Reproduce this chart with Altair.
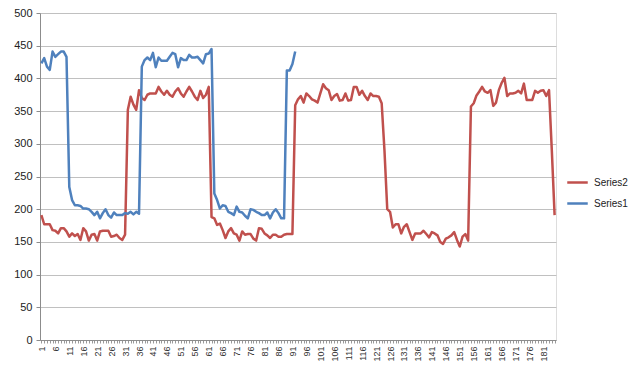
import altair as alt
import pandas as pd

# Series2 (red), categories 1..185
series2 = [
    191, 177, 177, 177, 168, 167, 163, 171, 171, 166, 158, 163, 159, 162, 153, 171,
    166, 152, 161, 162, 152, 166, 167, 167, 167, 158, 159, 161, 156, 153, 161,
    352, 372, 360, 352, 382, 370, 367, 375, 377, 377, 377, 387, 380, 375, 381, 375,
    372, 380, 385, 377, 372, 380, 387, 380, 372, 367, 381, 370, 375, 387,
    188, 186, 176, 178, 168, 156, 166, 171, 163, 161, 152, 166, 161, 162, 162, 155,
    152, 171, 170, 163, 160, 156, 161, 161, 158, 158, 161, 162, 162, 162,
    359, 368, 373, 363, 377, 373, 368, 366, 363, 377, 391, 385, 382, 367, 373, 376,
    366, 367, 377, 366, 367, 387, 387, 375, 381, 373, 367, 377, 373, 373, 372, 362,
    290, 200, 196, 172, 177, 177, 163, 173, 177, 165, 153, 163, 163, 163, 167, 162,
    157, 165, 163, 160, 150, 147, 155, 157, 160, 165, 153, 143, 158, 162, 152,
    357, 362, 374, 380, 387, 380, 378, 382, 358, 363, 382, 393, 401, 373, 377, 377,
    378, 381, 377, 392, 367, 367, 367, 381, 378, 381, 382, 373, 382, 290, 191,
]

# Series1 (blue), categories 1..92
series1 = [
    423, 431, 418, 413, 441, 433, 437, 441, 441, 433, 234,
    214, 206, 206, 205, 201, 201, 200, 196, 191, 196, 186, 194, 200, 191, 187, 195,
    191, 191, 191, 194, 193, 196, 192, 196, 193,
    418, 428, 432, 428, 439, 417, 432, 427, 427, 427, 433, 439, 437, 417, 431, 428,
    428, 436, 432, 432, 433, 428, 423, 437, 438, 445,
    224, 214, 201, 206, 205, 196, 194, 191, 204, 196, 195, 190, 186, 200, 199, 196,
    194, 191, 191, 195, 186, 195, 200, 194, 186, 186, 412, 412, 422, 441,
]

series_names = ["Series2", "Series1"]
series_colors = ["#C0504D", "#4F81BD"]
y_ticks = list(range(0, 501, 50))
n_cat = len(series2)

rows = []
for i, v in enumerate(series2):
    rows.append({"cat": i + 1, "value": v, "series": "Series2"})
for i, v in enumerate(series1):
    rows.append({"cat": i + 1, "value": v, "series": "Series1"})
df = pd.DataFrame(rows)

W, H = 516, 327
FONT = "Liberation Sans"

chart = alt.Chart(df).mark_line(strokeWidth=2.5, strokeJoin="round").encode(
    x=alt.X(
        "cat:Q",
        scale=alt.Scale(domain=[0.5, n_cat + 0.5], nice=False, zero=False),
        axis=alt.Axis(
            title=None,
            values=list(range(1, n_cat + 1)),
            labelExpr="(datum.value - 1) % 5 == 0 ? datum.label : ''",
            labelAngle=270,
            labelOverlap=False,
            labelFontSize=9,
            labelColor="#333333",
            labelPadding=3,
            tickSize=3,
            tickColor="#9a9a9a",
            grid=False,
            domainColor="#8c8c8c",
        ),
    ),
    y=alt.Y(
        "value:Q",
        scale=alt.Scale(domain=[0, 500], nice=False),
        axis=alt.Axis(
            title=None,
            values=y_ticks,
            labelFontSize=11,
            labelColor="#222222",
            labelPadding=4,
            tickSize=4,
            tickColor="#8c8c8c",
            grid=True,
            gridColor="#c0c0c0",
            domainColor="#8c8c8c",
        ),
    ),
    color=alt.Color(
        "series:N",
        scale=alt.Scale(domain=series_names, range=series_colors),
        legend=alt.Legend(
            title=None,
            orient="none",
            legendX=526,
            legendY=158,
            symbolType="stroke",
            symbolStrokeWidth=2.5,
            symbolSize=420,
            labelFontSize=10,
            labelColor="#222222",
            labelOffset=5,
            rowPadding=4,
        ),
    ),
).properties(
    width=W,
    height=H,
    autosize=alt.AutoSizeParams(type="none"),
    padding={"left": 32, "top": 5, "right": 624 - 32 - W, "bottom": 364 - 5 - H},
).configure_view(stroke=None).configure(font=FONT)

chart.save("out.html", embed_options={"renderer": "svg", "actions": False})
